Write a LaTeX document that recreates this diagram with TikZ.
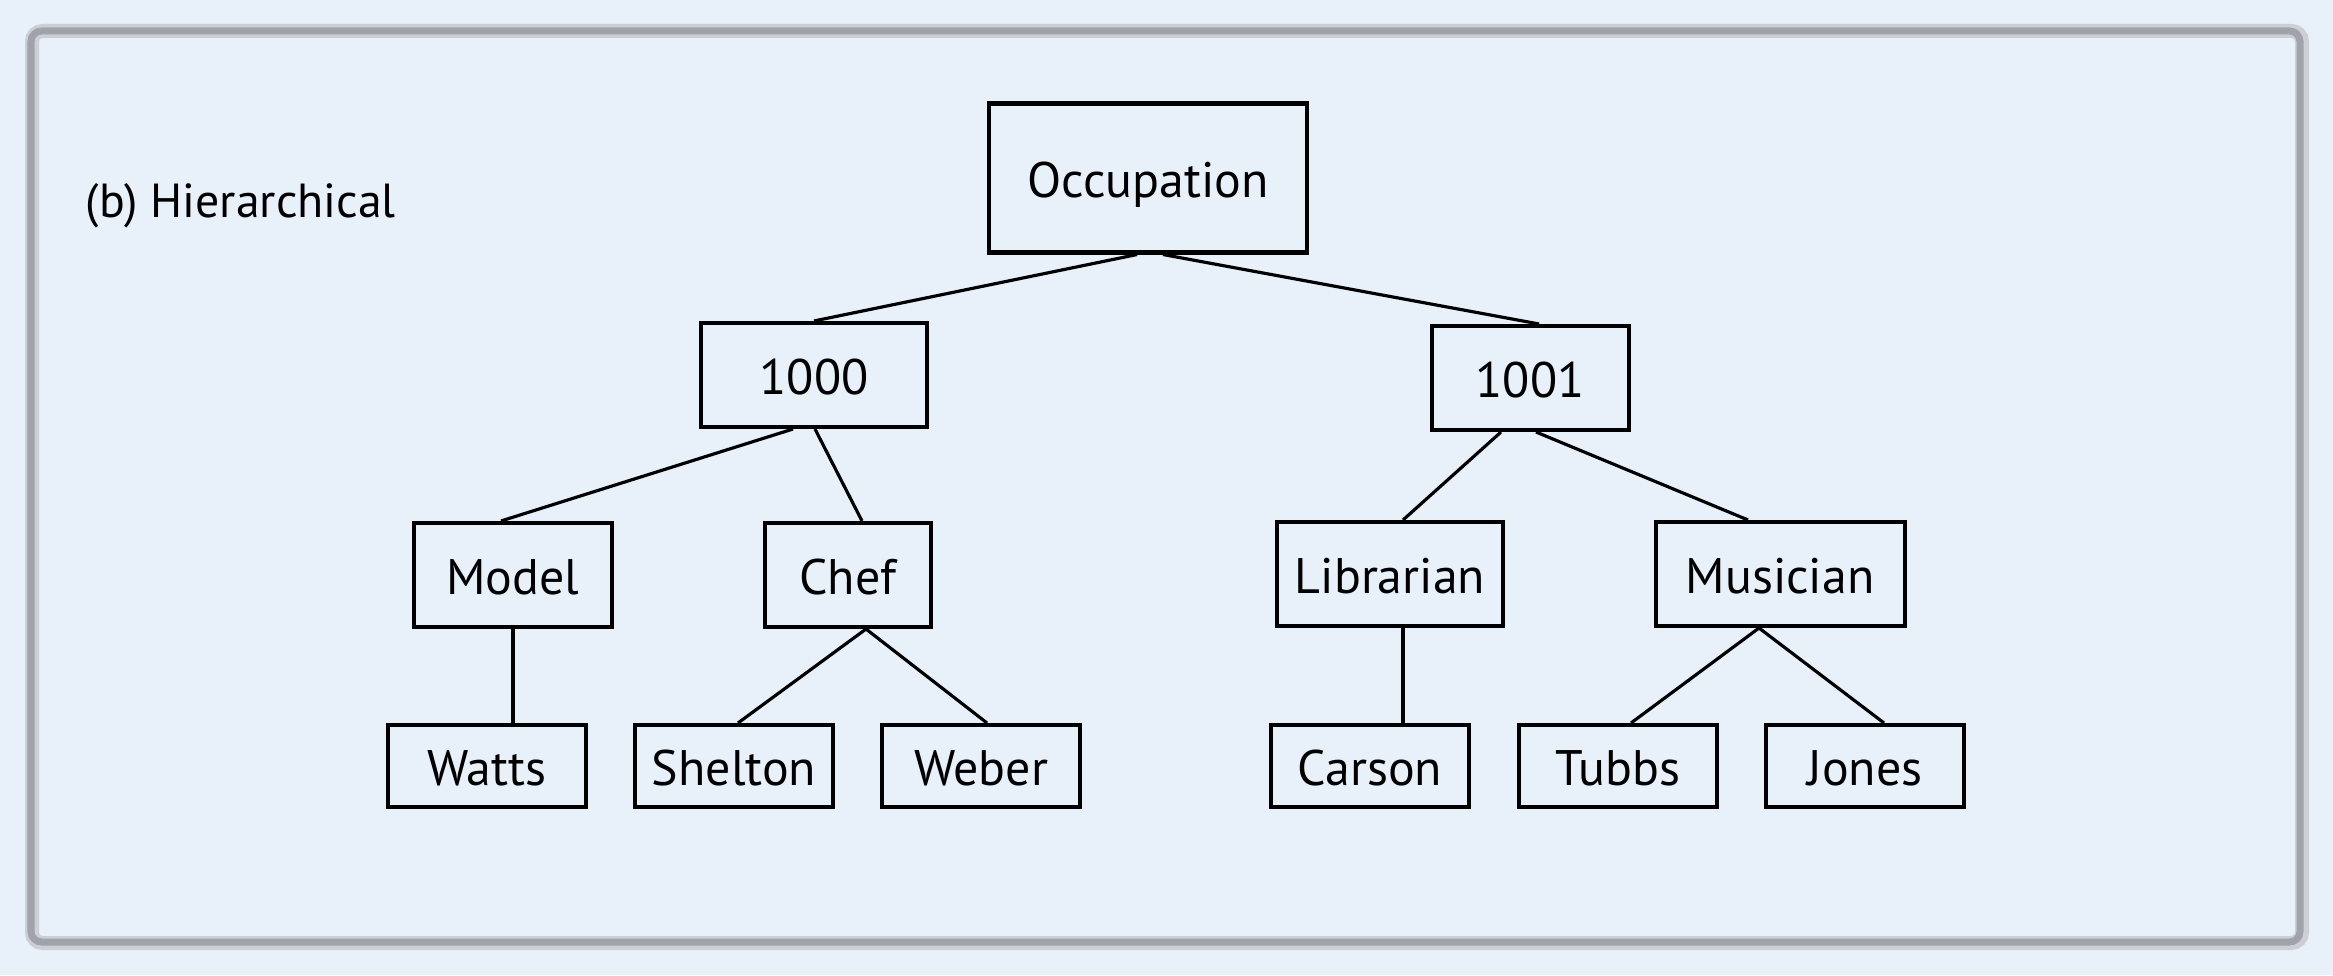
\documentclass[tikz,border=0pt]{standalone}
\usepackage{fontspec}
\setmainfont{PT Sans}
\usepackage{xcolor}
\usepackage{tikz}
\usetikzlibrary{positioning, calc}
\definecolor{PanelBlue}{RGB}{232,240,250}
\definecolor{FrameGray}{RGB}{160,163,170}
\definecolor{FrameLight}{RGB}{204,207,213}
\tikzset{
  entity/.style={
    rectangle, draw=black, line width=1.15pt, fill=PanelBlue,
    minimum height=1.04cm, inner sep=0pt,
    text height=0.47cm, text depth=0.08cm,
    font=\fontsize{14.2}{17}\selectfont
  },
  record/.style={entity, minimum width=1.98cm, minimum height=0.82cm},
  link/.style={draw=black, line width=0.9pt},
  caption/.style={font=\fontsize{13.6}{16}\selectfont, anchor=base west, inner sep=0pt}
}
\begin{document}
\begin{tikzpicture}

  % Background and panel frame
  \fill[PanelBlue] (0,0) rectangle (23.33,9.75);
  \useasboundingbox (0,0) rectangle (23.33,9.75);
  \draw[FrameLight, line width=0.14cm, rounded corners=3pt] (0.32,0.32) rectangle (23.02,9.44);
  \draw[FrameGray, line width=0.07cm, rounded corners=3pt] (0.31,0.33) rectangle (23.00,9.44);

  % Panel label
  \node[caption] (title) at (0.85,7.57) {(b) Hierarchical};

  % ── Root ──
  \node[entity, minimum width=3.18cm, minimum height=1.49cm] (occ) at (11.48,7.97) {Occupation};

  % ── Codes ──
  \node[entity, minimum width=2.26cm] (c1000) at ( 8.14,6.00) {1000};
  \node[entity, minimum width=1.97cm] (c1001) at (15.30,5.97) {1001};

  % ── Occupations ──
  \node[entity, minimum width=1.98cm] (model)     at ( 5.13,4.00) {Model};
  \node[entity, minimum width=1.66cm] (chef)      at ( 8.48,4.00) {Chef};
  \node[entity, minimum width=2.26cm] (librarian) at (13.90,4.01) {Librarian};
  \node[entity, minimum width=2.49cm] (musician)  at (17.80,4.01) {Musician};

  % ── People ──
  \node[record] (watts)   at ( 4.87,2.09) {Watts};
  \node[record] (shelton) at ( 7.34,2.09) {Shelton};
  \node[record] (weber)   at ( 9.81,2.09) {Weber};
  \node[record] (carson)  at (13.70,2.09) {Carson};
  \node[record] (tubbs)   at (16.18,2.09) {Tubbs};
  \node[record] (jones)   at (18.65,2.09) {Jones};

  % ── Links ──
  \draw[link] ([xshift=-0.11cm]occ.south) -- (c1000.north);
  \draw[link] ([xshift=0.15cm]occ.south) -- ([xshift=0.09cm]c1001.north);
  \draw[link] ([xshift=-0.21cm]c1000.south) -- ([xshift=-0.12cm]model.north);
  \draw[link] ([xshift=0.01cm]c1000.south) -- ([xshift=0.14cm]chef.north);
  \draw[link] (model.south) -- (model.south |- watts.north);
  \draw[link] ([xshift=0.18cm]chef.south) -- ([xshift=0.04cm]shelton.north);
  \draw[link] ([xshift=0.18cm]chef.south) -- ([xshift=0.06cm]weber.north);
  \draw[link] ([xshift=-0.29cm]c1001.south) -- ([xshift=0.13cm]librarian.north);
  \draw[link] ([xshift=0.06cm]c1001.south) -- ([xshift=-0.32cm]musician.north);
  \draw[link] ([xshift=0.13cm]librarian.south) -- ([xshift=0.13cm]librarian.south |- carson.north);
  \draw[link] ([xshift=-0.21cm]musician.south) -- ([xshift=0.13cm]tubbs.north);
  \draw[link] ([xshift=-0.21cm]musician.south) -- ([xshift=0.19cm]jones.north);
\end{tikzpicture}
\end{document}
